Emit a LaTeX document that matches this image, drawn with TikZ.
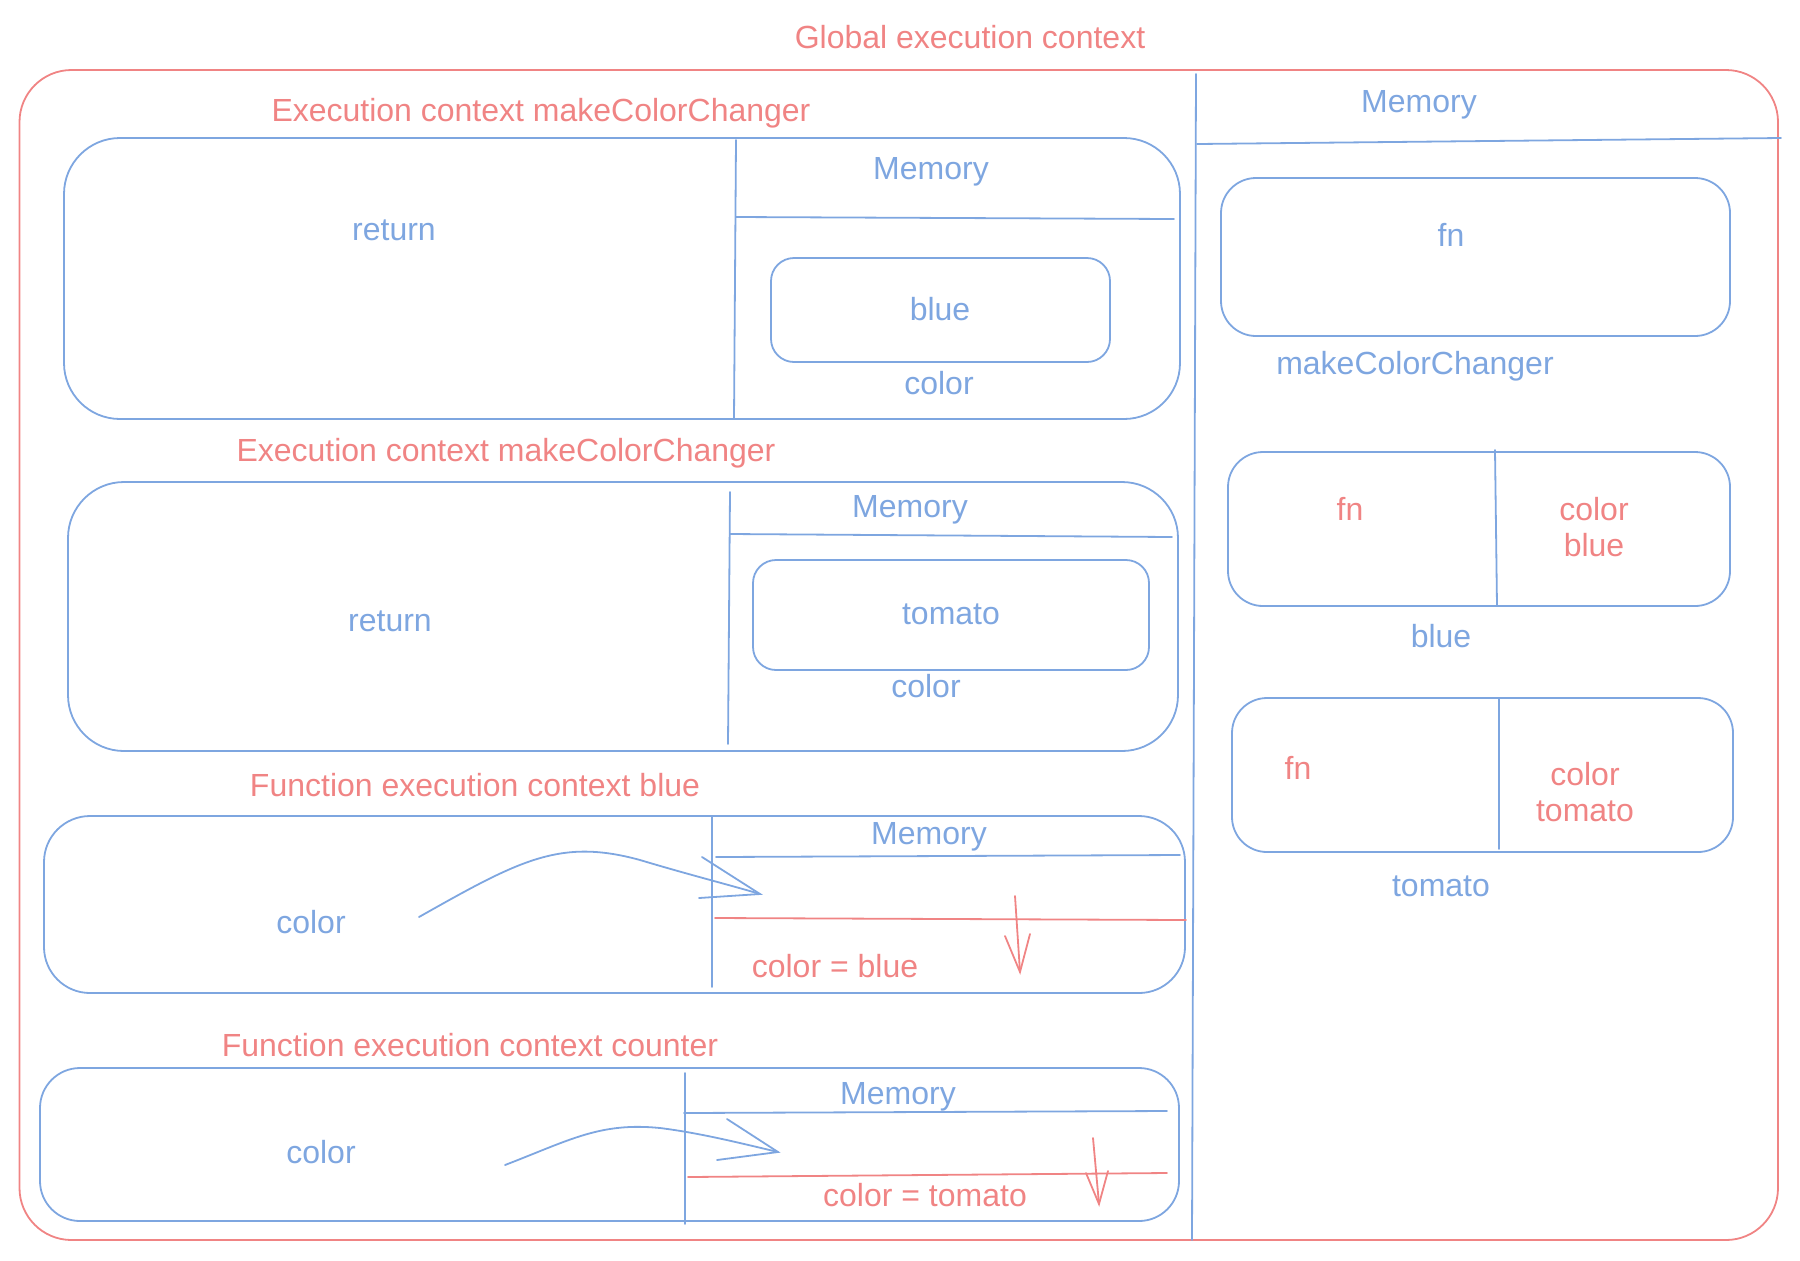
\documentclass[tikz,border=0pt]{standalone}
\usepackage{fontspec}
\setmainfont{Liberation Sans}
\usetikzlibrary{fit}
\definecolor{cblue}{HTML}{7EA6E0}
\definecolor{cred}{HTML}{F08484}
\begin{document}
\begin{tikzpicture}[x=0.5pt,y=-0.5pt,
  txt/.style={inner sep=0pt, font=\fontsize{16}{19}\selectfont},
  bt/.style={txt, text=cblue},
  rt/.style={txt, text=cred},
  bline/.style={draw=cblue, line width=0.9pt, line cap=round},
  rline/.style={draw=cred, line width=0.9pt, line cap=round},
  bbox/.style={draw=cblue, line width=0.9pt, inner sep=0pt, rectangle},
  rbox/.style={draw=cred, line width=0.9pt, inner sep=0pt, rectangle}]
\useasboundingbox (0,0) rectangle (1800,1260);

% ---------- global ----------
\node[rt] (gtitle) at (970,37) {Global execution context};
\node[rbox, rounded corners=26pt, fit={(19.5,70) (1778,1240)}] (global) {};
\coordinate (gd1) at (1196,74);
\coordinate (gd2) at (1192,1240);
\draw[bline] (gd1) -- (gd2);
\coordinate (gm1) at (1197,144);
\coordinate (gm2) at (1781,138);
\draw[bline] (gm1) -- (gm2);
\node[bt] (gmem) at (1419,105) {Memory};

% right column
\node[bbox, rounded corners=17.5pt, fit={(1221,178) (1730,336)}] (fnbox) {};
\node[bt] (fn1) at (1451,235) {fn};
\node[bt] (mcc) at (1415,366) {makeColorChanger};

\node[bbox, rounded corners=17.5pt, fit={(1228,452) (1730,606)}] (bluebox) {};
\coordinate (bd1) at (1495,450);
\coordinate (bd2) at (1497,606);
\draw[bline] (bd1) -- (bd2);
\node[rt] (fn2) at (1350,509) {fn};
\node[rt, align=center] (cb) at (1594,527) {color\\[-1pt]blue};
\node[bt] (bluelbl) at (1441,636) {blue};

\node[bbox, rounded corners=17.5pt, fit={(1232,698) (1733,852)}] (tomatobox) {};
\coordinate (td1) at (1499,699);
\coordinate (td2) at (1499,849);
\draw[bline] (td1) -- (td2);
\node[rt] (fn3) at (1298,768) {fn};
\node[rt, align=center] (ct) at (1585,792) {color\\[-1pt]tomato};
\node[bt] (tomatolbl) at (1441,886) {tomato};

% ---------- execution context 1 ----------
\node[rt] (ec1) at (541,113) {Execution context makeColorChanger};
\node[bbox, rounded corners=28pt, fit={(64,138) (1180,419)}] (box1) {};
\coordinate (v1a) at (736,140);
\coordinate (v1b) at (734,419);
\draw[bline] (v1a) -- (v1b);
\coordinate (h1a) at (736,217);
\coordinate (h1b) at (1174,219);
\draw[bline] (h1a) -- (h1b);
\node[bt] (mem1) at (931,172) {Memory};
\node[bt] (ret1) at (394,230) {return};
\node[bbox, rounded corners=11.5pt, fit={(771,258) (1110,362)}] (in1) {};
\node[bt] (blue1) at (940,309) {blue};
\node[bt] (col1) at (939,383) {color};

% ---------- execution context 2 ----------
\node[rt] (ec2) at (506,453) {Execution context makeColorChanger};
\node[bbox, rounded corners=28pt, fit={(68,482) (1178,751)}] (box2) {};
\coordinate (v2a) at (730,492);
\coordinate (v2b) at (728,744);
\draw[bline] (v2a) -- (v2b);
\coordinate (h2a) at (730,534);
\coordinate (h2b) at (1172,537);
\draw[bline] (h2a) -- (h2b);
\node[bt] (mem2) at (910,510) {Memory};
\node[bt] (ret2) at (390,621) {return};
\node[bbox, rounded corners=11.5pt, fit={(753,560) (1149,670)}] (in2) {};
\node[bt] (tomato2) at (951,614) {tomato};
\node[bt] (col2) at (926,686) {color};

% ---------- function execution context blue ----------
\node[rt] (fec1) at (475,785) {Function execution context blue};
\node[bbox, rounded corners=23pt, fit={(44,816) (1185,993)}] (box3) {};
\coordinate (v3a) at (712,816);
\coordinate (v3b) at (712,987);
\draw[bline] (v3a) -- (v3b);
\coordinate (h3a) at (716,857);
\coordinate (h3b) at (1180,855);
\draw[bline] (h3a) -- (h3b);
\node[bt] (mem3) at (929,837) {Memory};
\node[bt] (col3) at (311,922) {color};
\coordinate (c3s) at (419,917);
\coordinate (c3t) at (760,894);
\coordinate (c3h1) at (702,857);
\coordinate (c3h2) at (699,898);
\draw[bline] (c3s) .. controls (520,860) and (560,838) .. (640,860) .. controls (690,875) and (730,885) .. (c3t);
\draw[bline] (c3h1) -- (c3t) -- (c3h2);
\coordinate (r3a) at (715,918);
\coordinate (r3b) at (1186,920);
\draw[rline] (r3a) -- (r3b);
\coordinate (d3s) at (1015,896);
\coordinate (d3t) at (1020,972);
\coordinate (d3h1) at (1005,936);
\coordinate (d3h2) at (1030,934);
\draw[rline] (d3s) -- (d3t);
\draw[rline] (d3h1) -- (d3t) -- (d3h2);
\node[rt] (cb3) at (835,966) {color = blue};

% ---------- function execution context counter ----------
\node[rt] (fec2) at (470,1045) {Function execution context counter};
\node[bbox, rounded corners=20pt, fit={(40,1068) (1179,1221)}] (box4) {};
\coordinate (v4a) at (685,1073);
\coordinate (v4b) at (685,1224);
\draw[bline] (v4a) -- (v4b);
\coordinate (h4a) at (684,1113);
\coordinate (h4b) at (1167,1111);
\draw[bline] (h4a) -- (h4b);
\node[bt] (mem4) at (898,1097) {Memory};
\node[bt] (col4) at (321,1152) {color};
\coordinate (c4s) at (505,1165);
\coordinate (c4t) at (778,1152);
\coordinate (c4h1) at (727,1119);
\coordinate (c4h2) at (717,1160);
\draw[bline] (c4s) .. controls (570,1140) and (600,1122) .. (660,1128) .. controls (700,1133) and (740,1143) .. (c4t);
\draw[bline] (c4h1) -- (c4t) -- (c4h2);
\coordinate (r4a) at (688,1177);
\coordinate (r4b) at (1167,1173);
\draw[rline] (r4a) -- (r4b);
\coordinate (d4s) at (1093,1138);
\coordinate (d4t) at (1099,1204);
\coordinate (d4h1) at (1086,1173);
\coordinate (d4h2) at (1108,1171);
\draw[rline] (d4s) -- (d4t);
\draw[rline] (d4h1) -- (d4t) -- (d4h2);
\node[rt] (ct4) at (925,1195) {color = tomato};
\end{tikzpicture}
\end{document}
